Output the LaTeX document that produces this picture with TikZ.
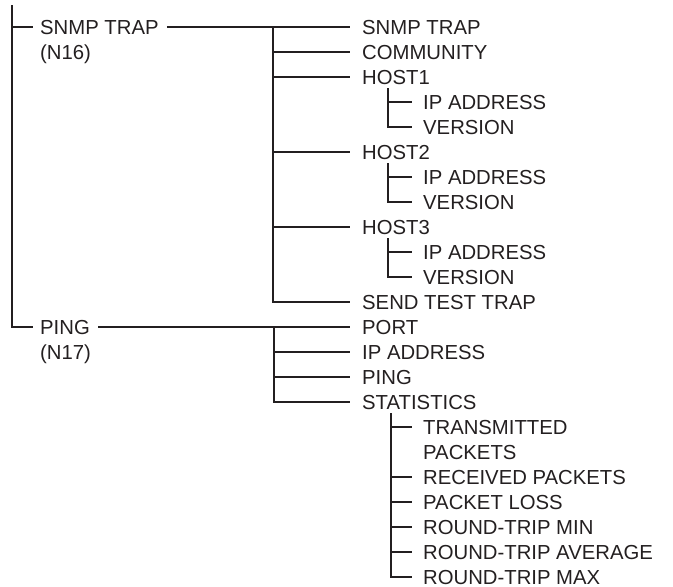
\documentclass[tikz,border=0pt]{standalone}
\usepackage{fontspec}
\setmainfont{Liberation Sans}
\definecolor{ink}{HTML}{231F20}
\begin{document}
\begin{tikzpicture}[x=1pt,y=-1pt,
  lbl/.style={anchor=west,inner sep=0pt,text height=14.4pt,text depth=0pt,
    font=\fontsize{20.3}{25}\selectfont,text=ink},
  ln/.style={draw=ink,line width=1.6pt}]
\useasboundingbox (0,0) rectangle (673,587);
% level 0
\node[lbl] (snmp) at (40,27) {SNMP TRAP};
\node[lbl] (n16)  at (40,52) {(N16)};
\node[lbl] (ping) at (40,327) {PING};
\node[lbl] (n17)  at (40,352) {(N17)};
% level 1 (SNMP TRAP)
\node[lbl] (s1) at (362,27)  {SNMP TRAP};
\node[lbl] (s2) at (362,52)  {COMMUNITY};
\node[lbl] (h1) at (362,77)  {HOST1};
\node[lbl] (h2) at (362,152) {HOST2};
\node[lbl] (h3) at (362,227) {HOST3};
\node[lbl] (st) at (362,302) {SEND TEST TRAP};
% level 1 (PING)
\node[lbl] (p1) at (362,327) {PORT};
\node[lbl] (p2) at (362,352) {IP ADDRESS};
\node[lbl] (p3) at (362,377) {PING};
\node[lbl] (p4) at (362,402) {STATISTICS};
% level 2 hosts
\node[lbl] (h1a) at (423,102) {IP ADDRESS};
\node[lbl] (h1b) at (423,127) {VERSION};
\node[lbl] (h2a) at (423,177) {IP ADDRESS};
\node[lbl] (h2b) at (423,202) {VERSION};
\node[lbl] (h3a) at (423,252) {IP ADDRESS};
\node[lbl] (h3b) at (423,277) {VERSION};
% level 2 statistics
\node[lbl] (t1)  at (423,427) {TRANSMITTED};
\node[lbl] (t1b) at (423,452) {PACKETS};
\node[lbl] (t2)  at (423,477) {RECEIVED PACKETS};
\node[lbl] (t3)  at (423,502) {PACKET LOSS};
\node[lbl] (t4)  at (423,527) {ROUND-TRIP MIN};
\node[lbl] (t5)  at (423,552) {ROUND-TRIP AVERAGE};
\node[lbl] (t6)  at (423,577) {ROUND-TRIP MAX};
% coordinates of the vertical bars
\coordinate (v0) at (12,5);
\coordinate (v1) at (273,27);
\coordinate (v2) at (274,327);
\coordinate (k1) at (388,88);
\coordinate (k2) at (388,163);
\coordinate (k3) at (388,238);
\coordinate (k4) at (391,413);
% level 0 connectors
\draw[ln] (v0) |- ([xshift=-7pt]ping.west);
\draw[ln] (v0 |- snmp.west) -- ([xshift=-7pt]snmp.west);
% SNMP TRAP subtree
\draw[ln] ([xshift=8pt]snmp.east) -- ([xshift=-12pt]s1.west);
\draw[ln] (v1) |- ([xshift=-12pt]st.west);
\foreach \n in {s2,h1,h2,h3}
  \draw[ln] (v1 |- \n.west) -- ([xshift=-12pt]\n.west);
% PING subtree
\draw[ln] ([xshift=8pt]ping.east) -- ([xshift=-12pt]p1.west);
\draw[ln] (v2) |- ([xshift=-12pt]p4.west);
\foreach \n in {p2,p3}
  \draw[ln] (v2 |- \n.west) -- ([xshift=-12pt]\n.west);
% host children
\draw[ln] (k1) |- ([xshift=-11pt]h1b.west);
\draw[ln] (k1 |- h1a.west) -- ([xshift=-11pt]h1a.west);
\draw[ln] (k2) |- ([xshift=-11pt]h2b.west);
\draw[ln] (k2 |- h2a.west) -- ([xshift=-11pt]h2a.west);
\draw[ln] (k3) |- ([xshift=-11pt]h3b.west);
\draw[ln] (k3 |- h3a.west) -- ([xshift=-11pt]h3a.west);
% statistics children
\draw[ln] (k4) |- ([xshift=-11pt]t6.west);
\foreach \n in {t1,t2,t3,t4,t5}
  \draw[ln] (k4 |- \n.west) -- ([xshift=-11pt]\n.west);
\end{tikzpicture}
\end{document}
